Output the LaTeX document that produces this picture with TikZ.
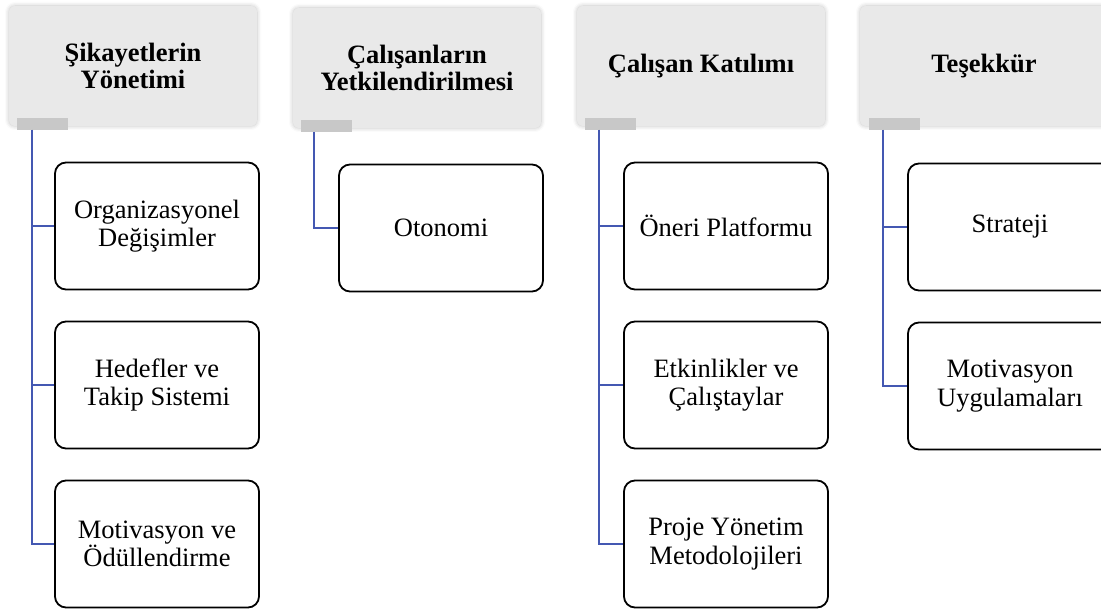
\documentclass[tikz,border=0pt]{standalone}
\usepackage{fontspec}
\setmainfont{Liberation Serif}
\usetikzlibrary{shadows.blur}
\definecolor{hdrgray}{RGB}{233,233,233}
\definecolor{tabgray}{RGB}{200,200,200}
\definecolor{linkblue}{RGB}{68,88,178}
\tikzset{
  hdr/.style={fill=hdrgray, rounded corners=6pt, minimum width=248pt, minimum height=120pt,
    inner sep=0pt, align=center, font=\fontsize{26.5}{27}\selectfont\bfseries,
    blur shadow={shadow xshift=0pt, shadow yshift=0pt, shadow blur radius=4pt, shadow opacity=25}},
  tabbar/.style={fill=tabgray, minimum width=51pt, minimum height=12pt, inner sep=0pt},
  child/.style={draw=black, line width=1.8pt, rounded corners=11pt, minimum width=204pt,
    minimum height=127pt, inner sep=0pt, align=center, font=\fontsize{26.5}{28.5}\selectfont},
  conn/.style={draw=linkblue, line width=1.4pt}
}
\begin{document}
\begin{tikzpicture}[x=1pt,y=-1pt]
\useasboundingbox (0,0) rectangle (1101,609);
\clip (0,0) rectangle (1101,609);
% headers
\node[hdr] (h1) at (133,66) {Şikayetlerin\\Yönetimi};
\node[hdr] (h2) at (417,68) {Çalışanların\\Yetkilendirilmesi};
\node[hdr] (h3) at (701,66) {Çalışan Katılımı};
\node[hdr] (h4) at (984,66) {Teşekkür};
% tabs
\node[tabbar, anchor=north west] (t1) at (17,118) {};
\node[tabbar, anchor=north west] (t2) at (301,120) {};
\node[tabbar, anchor=north west] (t3) at (585,118) {};
\node[tabbar, anchor=north west] (t4) at (869,118) {};
\coordinate (s1) at (32,130);
\coordinate (s2) at (314,132);
\coordinate (s3) at (599,130);
\coordinate (s4) at (883,130);
% children column 1
\node[child] (c11) at (157,226) {Organizasyonel\\Değişimler};
\node[child] (c12) at (157,385) {Hedefler ve\\Takip Sistemi};
\node[child] (c13) at (157,544) {Motivasyon ve\\Ödüllendirme};
% column 2
\node[child] (c21) at (441,228) {Otonomi};
% column 3
\node[child] (c31) at (726,226) {Öneri Platformu};
\node[child] (c32) at (726,385) {Etkinlikler ve\\Çalıştaylar};
\node[child] (c33) at (726,544) {Proje Yönetim\\Metodolojileri};
% column 4
\node[child] (c41) at (1010,227) {Strateji};
\node[child] (c42) at (1010,386) {Motivasyon\\Uygulamaları};
% connectors
\draw[conn] (s1) |- (c11.west);
\draw[conn] (s1) |- (c12.west);
\draw[conn] (s1) |- (c13.west);
\draw[conn] (s2) |- (c21.west);
\draw[conn] (s3) |- (c31.west);
\draw[conn] (s3) |- (c32.west);
\draw[conn] (s3) |- (c33.west);
\draw[conn] (s4) |- (c41.west);
\draw[conn] (s4) |- (c42.west);
\end{tikzpicture}
\end{document}
